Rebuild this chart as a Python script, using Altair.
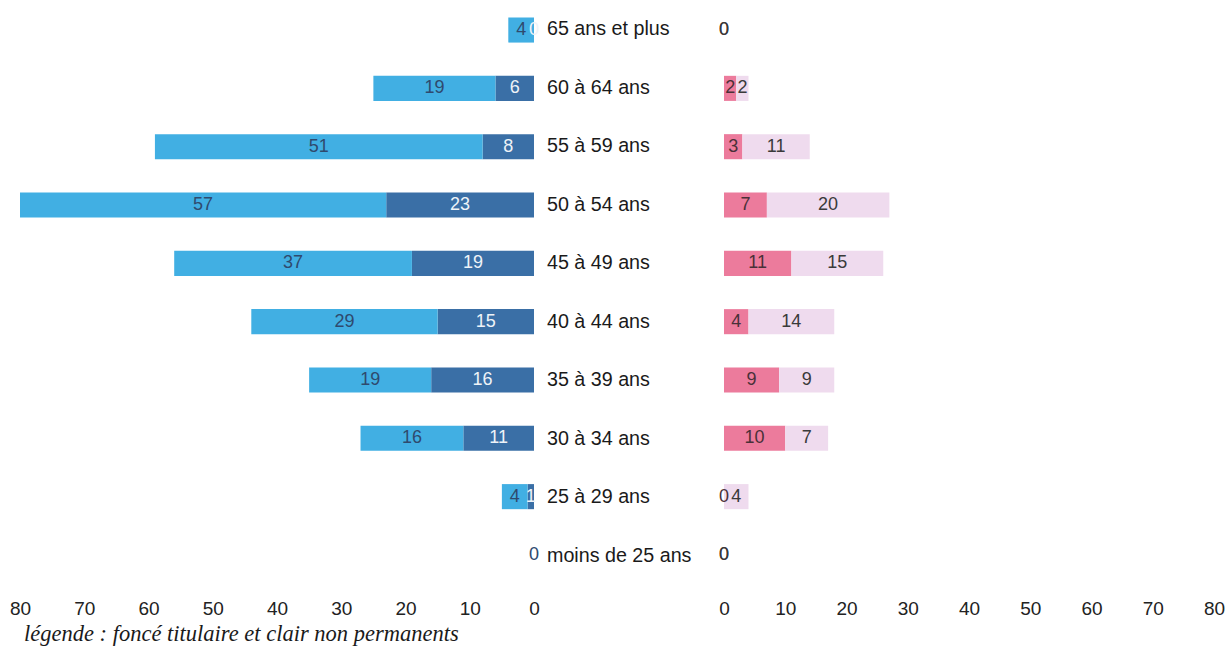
import altair as alt
import pandas as pd

# Age bands, top to bottom
ages = [
    "65 ans et plus", "60 à 64 ans", "55 à 59 ans", "50 à 54 ans", "45 à 49 ans",
    "40 à 44 ans", "35 à 39 ans", "30 à 34 ans", "25 à 29 ans", "moins de 25 ans",
]
# Headcounts per age band
hommes_titulaires = [0, 6, 8, 23, 19, 15, 16, 11, 1, 0]
hommes_non_permanents = [4, 19, 51, 57, 37, 29, 19, 16, 4, 0]
femmes_titulaires = [0, 2, 3, 7, 11, 4, 9, 10, 0, 0]
femmes_non_permanents = [0, 2, 11, 20, 15, 14, 9, 7, 4, 0]
axis_ticks = [0, 10, 20, 30, 40, 50, 60, 70, 80]
legende = "légende : foncé titulaire et clair non permanents"

STATUTS = ["titulaire", "non permanent"]
PLOT_H = 585
Y_SCALE = alt.Scale(paddingInner=0.57, paddingOuter=0.3)


def long_table(titulaires, non_permanents):
    rows = []
    for age, t, n in zip(ages, titulaires, non_permanents):
        rows.append({"age": age, "statut": "titulaire", "rang": 0, "valeur": t})
        rows.append({"age": age, "statut": "non permanent", "rang": 1, "valeur": n})
    return pd.DataFrame(rows)


def side(df, reverse, width, colors, text_dark, text_light):
    base = (
        alt.Chart(df)
        .transform_stack(
            stack="valeur",
            groupby=["age"],
            as_=["debut", "fin"],
            sort=[alt.SortField("rang", order="ascending")],
        )
        .transform_calculate(milieu="(datum.debut + datum.fin) / 2")
    )
    y = alt.Y("age:N", sort=ages, scale=Y_SCALE, axis=None)
    x_scale = alt.Scale(domain=[0, 80], reverse=reverse, nice=False, zero=True)
    x_axis = alt.Axis(values=axis_ticks, title=None, labelFlush=False)
    bars = base.mark_bar().encode(
        y=y,
        x=alt.X("debut:Q", scale=x_scale, axis=x_axis),
        x2="fin:Q",
        color=alt.Color(
            "statut:N",
            scale=alt.Scale(domain=STATUTS, range=colors),
            legend=None,
        ),
    )
    labels = base.mark_text(font="Liberation Sans", fontSize=18).encode(
        y=y,
        x=alt.X("milieu:Q", scale=x_scale, axis=x_axis),
        text="valeur:Q",
        color=alt.condition(
            alt.datum.statut == "titulaire",
            alt.value(text_dark),
            alt.value(text_light),
        ),
    )
    return alt.layer(bars, labels).properties(width=width, height=PLOT_H)


hommes = side(
    long_table(hommes_titulaires, hommes_non_permanents),
    reverse=True,
    width=514,
    colors=["#3a6fa6", "#41afe3"],
    text_dark="#eef3f8",
    text_light="#2f4a6e",
)

note = (
    alt.Chart(pd.DataFrame({"t": [legende]}))
    .mark_text(
        align="left",
        baseline="alphabetic",
        font="Liberation Serif",
        fontStyle="italic",
        fontSize=22.5,
        color="#1a1a1a",
    )
    .encode(x=alt.value(4), y=alt.value(641), text="t:N")
)
hommes = alt.layer(hommes, note)

femmes = side(
    long_table(femmes_titulaires, femmes_non_permanents),
    reverse=False,
    width=490,
    colors=["#ec7b9c", "#efdbee"],
    text_dark="#4a3038",
    text_light="#3a3a3a",
)

tranches = (
    alt.Chart(pd.DataFrame({"age": ages}))
    .mark_text(align="left", font="Liberation Sans", fontSize=19.7, color="#1a1a1a")
    .encode(
        y=alt.Y("age:N", sort=ages, scale=Y_SCALE, axis=None),
        x=alt.value(13),
        text="age:N",
    )
    .properties(width=190, height=PLOT_H)
)

chart = (
    alt.hconcat(hommes, tranches, femmes, spacing=0, bounds="flush")
    .resolve_scale(color="independent")
    .properties(padding={"left": 9, "top": 0, "right": 0, "bottom": 0})
    .configure_view(stroke=None)
    .configure_axis(
        domain=False,
        ticks=False,
        grid=False,
        labelFont="Liberation Sans",
        labelFontSize=19,
        labelColor="#222222",
        labelPadding=14,
    )
)

chart.save("out.html", embed_options={"renderer": "svg", "actions": False})
